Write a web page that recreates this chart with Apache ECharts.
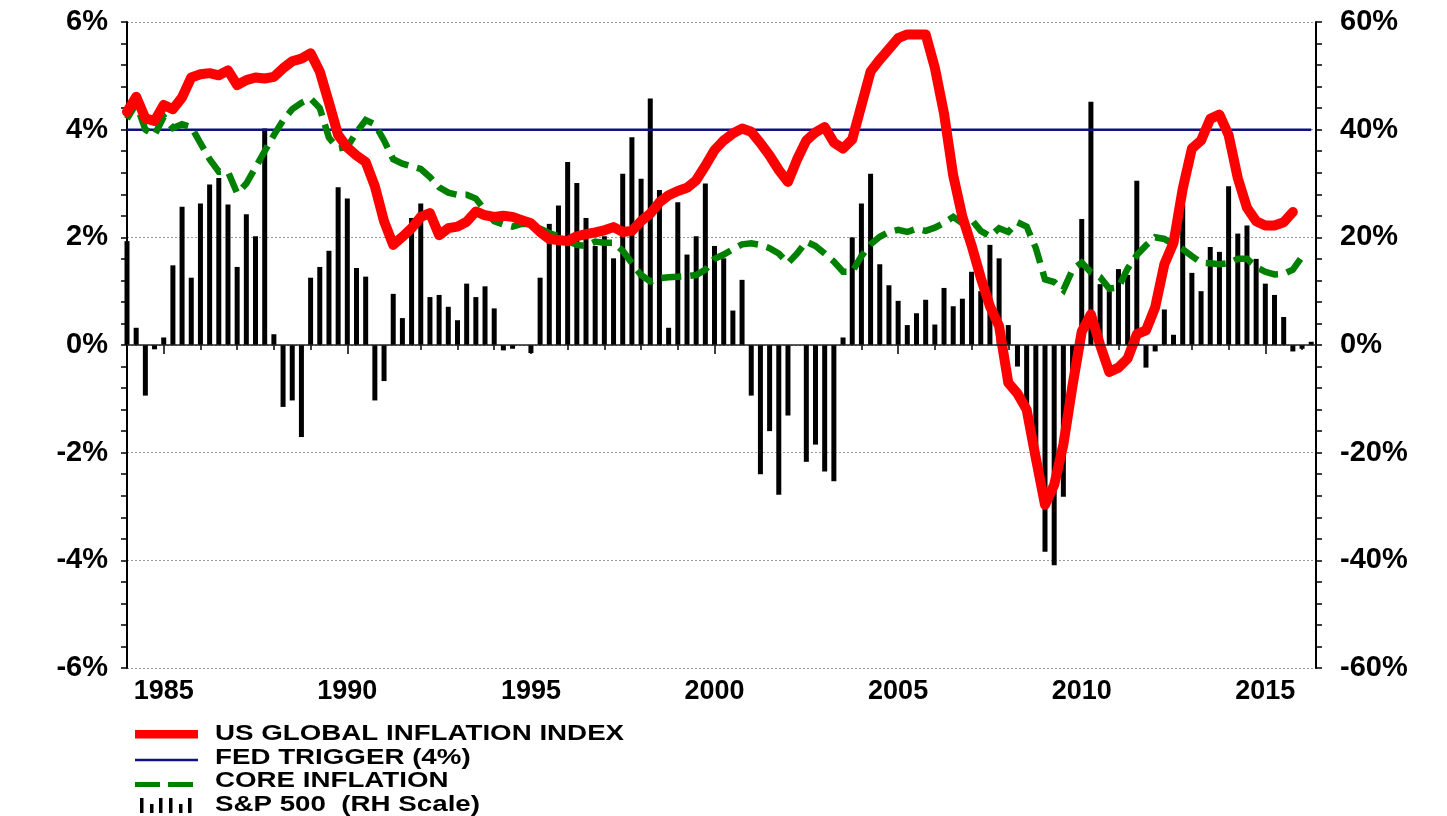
<!DOCTYPE html>
<html>
<head>
<meta charset="utf-8">
<script src="https://cdn.jsdelivr.net/npm/echarts@6/dist/echarts.min.js"></script>
<style>
html,body{margin:0;padding:0;background:#fff;}
#chart{width:1447px;height:816px;}
</style>
</head>
<body>
<div id="chart"></div>
<script>
// ---- DATA ----
const FIRST_QUARTER = 1984; // first quarterly observation (year fraction)
const YEAR_TICKS = [1984,1985,1986,1987,1988,1989,1990,1991,1992,1993,1994,1995,1996,1997,1998,1999,2000,2001,2002,2003,2004,2005,2006,2007,2008,2009,2010,2011,2012,2013,2014,2015,2016];
const LABEL_YEARS = [1985,1990,1995,2000,2005,2010,2015];
const LEFT_TICKS = [-6,-4,-2,0,2,4,6];
const RIGHT_TICKS = [-60,-40,-20,0,20,40,60];

// S&P 500 year-over-year % (right-hand scale), quarterly from 1984.0
const SP500 = [
 19.3, 3.2, -9.4, -0.8,
 1.4, 14.8, 25.7, 12.5,
 26.3, 29.8, 31.0, 26.1,
 14.5, 24.3, 20.2, 40.2,
 2.0, -11.5, -10.3, -17.1,
 12.5, 14.5, 17.5, 29.3,
 27.2, 14.3, 12.7, -10.3,
 -6.7, 9.5, 5.0, 23.6,
 26.3, 8.9, 9.3, 7.1,
 4.6, 11.4, 8.9, 10.9,
 6.8, -1.0, -0.7, 0.0,
 -1.5, 12.5, 22.5, 25.9,
 34.0, 30.1, 23.6, 18.4,
 20.2, 16.1, 31.8, 38.6,
 30.9, 45.8, 28.8, 3.2,
 26.5, 16.8, 20.2, 30.0,
 18.4, 16.1, 6.4, 12.1,
 -9.4, -24.0, -16.0, -27.8,
 -13.1, 0.0, -21.7, -18.5,
 -23.5, -25.3, 1.4, 20.0,
 26.3, 31.8, 15.0, 11.1,
 8.2, 3.7, 5.9, 8.4,
 3.8, 10.6, 7.2, 8.6,
 13.6, 10.0, 18.6, 16.1,
 3.7, -4.0, -14.0, -23.0,
 -38.4, -40.9, -28.2, -9.5,
 23.4, 45.2, 11.3, 10.0,
 14.1, 13.0, 30.5, -4.2,
 -1.2, 6.6, 1.9, 26.0,
 13.4, 10.0, 18.2, 17.3,
 29.5, 20.7, 22.2, 16.0,
 11.4, 9.3, 5.2, -1.2,
 -0.7, 0.6
];

// US Global Inflation Index (%), quarterly from 1984.0
const US_GLOBAL_INFLATION = [
 4.33, 4.61, 4.21, 4.16,
 4.46, 4.38, 4.60, 4.97,
 5.03, 5.05, 5.01, 5.10,
 4.83, 4.92, 4.97, 4.95,
 4.98, 5.14, 5.27, 5.32,
 5.42, 5.08, 4.50, 3.90,
 3.67, 3.52, 3.40, 2.95,
 2.30, 1.86, 2.01, 2.17,
 2.38, 2.45, 2.04, 2.17,
 2.20, 2.29, 2.48, 2.41,
 2.38, 2.40, 2.38, 2.32,
 2.26, 2.10, 1.97, 1.95,
 1.93, 2.02, 2.06, 2.09,
 2.13, 2.19, 2.10, 2.12,
 2.30, 2.44, 2.65, 2.78,
 2.86, 2.92, 3.06, 3.33,
 3.62, 3.80, 3.93, 4.02,
 3.96, 3.75, 3.52, 3.25,
 3.03, 3.45, 3.80, 3.95,
 4.05, 3.76, 3.65, 3.82,
 4.45, 5.08, 5.30, 5.50,
 5.70, 5.77, 5.77, 5.77,
 5.15, 4.30, 3.15, 2.38,
 1.85, 1.25, 0.72, 0.35,
 -0.70, -0.90, -1.20, -2.10,
 -2.97, -2.60, -1.85, -0.75,
 0.25, 0.57, 0.00, -0.50,
 -0.42, -0.25, 0.20, 0.27,
 0.70, 1.50, 1.90, 2.90,
 3.65, 3.80, 4.20, 4.28,
 3.90, 3.10, 2.55, 2.30,
 2.22, 2.22, 2.28, 2.47
];

// Core inflation (%), quarterly from 1984.0
const CORE_INFLATION = [
 4.20, 4.48, 4.00, 3.90,
 4.24, 4.03, 4.10, 4.05,
 3.75, 3.45, 3.22, 3.22,
 2.82, 3.00, 3.30, 3.60,
 3.90, 4.17, 4.38, 4.50,
 4.58, 4.40, 3.85, 3.65,
 3.68, 3.95, 4.18, 4.10,
 3.80, 3.45, 3.37, 3.32,
 3.27, 3.12, 2.93, 2.83,
 2.79, 2.79, 2.72, 2.50,
 2.30, 2.24, 2.20, 2.25,
 2.25, 2.16, 2.08, 2.02,
 1.93, 1.86, 1.84, 1.92,
 1.90, 1.90, 1.75, 1.52,
 1.30, 1.18, 1.24, 1.26,
 1.27, 1.28, 1.30, 1.40,
 1.60, 1.68, 1.78, 1.87,
 1.89, 1.86, 1.80, 1.70,
 1.52, 1.70, 1.92, 1.84,
 1.70, 1.55, 1.36, 1.36,
 1.65, 1.87, 2.01, 2.10,
 2.14, 2.10, 2.16, 2.12,
 2.18, 2.27, 2.38, 2.26,
 2.33, 2.12, 2.02, 2.17,
 2.10, 2.28, 2.20, 1.80,
 1.22, 1.17, 1.02, 1.40,
 1.53, 1.35, 1.26, 1.05,
 1.07, 1.42, 1.67, 1.85,
 2.00, 1.97, 1.87, 1.78,
 1.65, 1.53, 1.52, 1.50,
 1.52, 1.60, 1.60, 1.45,
 1.36, 1.31, 1.32, 1.40,
 1.64
];

const FED_TRIGGER = 4;
const FED_TRIGGER_SPAN = [1984, 2016.25];

const LEGEND_LABELS = ['US GLOBAL INFLATION INDEX', 'FED TRIGGER (4%)', 'CORE INFLATION', 'S&P 500  (RH Scale)'];

// ---- BUILD ----
const quarterDate = i => FIRST_QUARTER + i / 4;
const toPairs = arr => arr.map((v, i) => [quarterDate(i), v]);

const FONT = "'Liberation Sans', Arial, sans-serif";
const chart = echarts.init(document.getElementById('chart'), null, {renderer: 'canvas'});

const yLabel = (margin) => ({
  show: true, color: '#000', fontSize: 29, fontWeight: 'bold', fontFamily: FONT,
  margin: margin, formatter: v => v + '%'
});

const legendX = 135, textX = 215;
const rowY = [734, 758, 781, 805];
const legendGraphics = [
  {type: 'rect', shape: {x: legendX, y: rowY[0] - 4, width: 63, height: 8.5}, style: {fill: '#ff0000'}},
  {type: 'line', shape: {x1: legendX, y1: rowY[1] + 2, x2: legendX + 63, y2: rowY[1] + 2}, style: {stroke: '#101080', lineWidth: 2.5}},
  {type: 'rect', shape: {x: legendX, y: rowY[2] + 1, width: 25, height: 5}, style: {fill: '#008000'}},
  {type: 'rect', shape: {x: legendX + 33, y: rowY[2] + 1, width: 25, height: 5}, style: {fill: '#008000'}},
];
// small bar icon
[[140, 15], [150, 9], [159, 15], [169, 15], [179, 9], [188, 15]].forEach(b => {
  legendGraphics.push({type: 'rect', shape: {x: b[0], y: 813 - b[1], width: 3.5, height: b[1]}, style: {fill: '#000'}});
});
LEGEND_LABELS.forEach((t, i) => {
  legendGraphics.push({
    type: 'text', x: textX, y: rowY[i], scaleX: 1.32, scaleY: 1.03, originX: 0, originY: 0,
    style: {text: t, fill: '#000', font: "bold 21px 'Liberation Sans', Arial, sans-serif", verticalAlign: 'middle', align: 'left'}
  });
});

const option = {
  backgroundColor: '#fff',
  animation: false,
  grid: {left: 127, right: 131, top: 22, bottom: 148, containLabel: false},
  xAxis: [
    {
      type: 'value', min: 1984, max: 2016.38, position: 'bottom',
      axisLine: {show: false},
      splitLine: {show: false},
      axisTick: {show: true, length: 5, customValues: YEAR_TICKS, lineStyle: {color: '#000', width: 1.5}},
      axisLabel: {show: true, customValues: LABEL_YEARS, color: '#000', fontSize: 27, fontWeight: 'bold', fontFamily: FONT, margin: 10, formatter: v => String(v)}
    },
    {
      type: 'value', min: 1984, max: 2016.38, position: 'bottom', offset: 0,
      axisLine: {show: false},
      splitLine: {show: false},
      axisTick: {show: true, length: 9, customValues: LABEL_YEARS, lineStyle: {color: '#000', width: 1.5}},
      axisLabel: {show: false}
    }
  ],
  yAxis: [
    {
      type: 'value', min: LEFT_TICKS[0], max: LEFT_TICKS[LEFT_TICKS.length - 1], interval: 2, position: 'left',
      axisLine: {show: true, onZero: false, lineStyle: {color: '#000', width: 2}},
      axisTick: {show: true, length: 6, lineStyle: {color: '#000', width: 1.5}},
      minorTick: {show: true, splitNumber: 5, length: 6, lineStyle: {color: '#000', width: 1.5}},
      splitLine: {show: true, lineStyle: {color: '#999', width: 1, type: [2, 2]}},
      axisLabel: yLabel(19)
    },
    {
      type: 'value', min: RIGHT_TICKS[0], max: RIGHT_TICKS[RIGHT_TICKS.length - 1], interval: 20, position: 'right',
      axisLine: {show: true, onZero: false, lineStyle: {color: '#000', width: 2}},
      axisTick: {show: true, length: 6, lineStyle: {color: '#000', width: 1.5}},
      minorTick: {show: true, splitNumber: 5, length: 6, lineStyle: {color: '#000', width: 1.5}},
      splitLine: {show: false},
      axisLabel: yLabel(24)
    }
  ],
  series: [
    {
      name: 'S&P 500', type: 'bar', xAxisIndex: 0, yAxisIndex: 1,
      data: toPairs(SP500), barWidth: 5,
      itemStyle: {color: '#000'},
      markLine: {
        silent: true, symbol: 'none', label: {show: false},
        lineStyle: {color: '#222', width: 1.5, type: 'solid'},
        data: [{yAxis: 0}]
      }
    },
    {
      name: 'FED TRIGGER', type: 'line', xAxisIndex: 0, yAxisIndex: 0,
      data: FED_TRIGGER_SPAN.map(x => [x, FED_TRIGGER]),
      showSymbol: false, symbol: 'none',
      lineStyle: {color: '#101080', width: 2.5}
    },
    {
      name: 'CORE INFLATION', type: 'line', xAxisIndex: 0, yAxisIndex: 0,
      data: toPairs(CORE_INFLATION),
      showSymbol: false, symbol: 'none',
      lineStyle: {color: '#008000', width: 6.5, type: [20, 9], cap: 'butt', join: 'miter'}
    },
    {
      name: 'US GLOBAL INFLATION INDEX', type: 'line', xAxisIndex: 0, yAxisIndex: 0,
      data: toPairs(US_GLOBAL_INFLATION),
      showSymbol: false, symbol: 'none',
      lineStyle: {color: '#ff0000', width: 10, cap: 'round', join: 'round'}
    }
  ],
  graphic: legendGraphics
};
chart.setOption(option);
</script>
</body>
</html>
